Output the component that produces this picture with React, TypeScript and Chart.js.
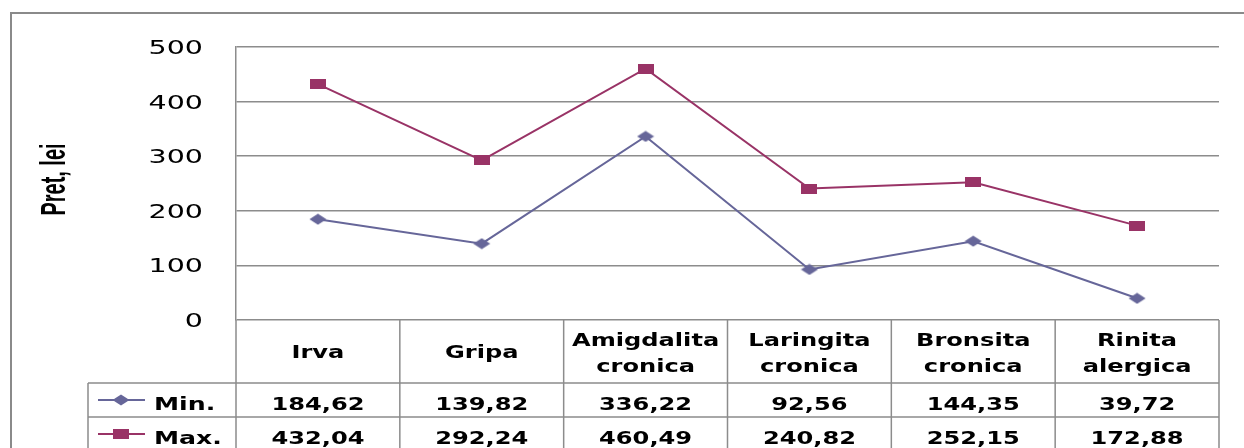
import React, { useEffect, useRef } from 'react';
import { Chart, registerables } from 'chart.js';
Chart.register(...registerables);

const categories: string[][] = [
  ['Irva'],
  ['Gripa'],
  ['Amigdalita', 'cronica'],
  ['Laringita', 'cronica'],
  ['Bronsita', 'cronica'],
  ['Rinita', 'alergica'],
];
const minValues = [184.62, 139.82, 336.22, 92.56, 144.35, 39.72];
const maxValues = [432.04, 292.24, 460.49, 240.82, 252.15, 172.88];
const seriesNames = ['Min.', 'Max.'];
const seriesColors = ['#666699', '#993366'];
const yMin = 0;
const yMax = 500;
const yStep = 100;
const axisTitle = 'Pret, lei';

const fmt = (v: number) => v.toFixed(2).replace('.', ',');

function makeDiamond(color: string) {
  const c = document.createElement('canvas');
  c.width = 18;
  c.height = 12;
  const g = c.getContext('2d')!;
  g.fillStyle = color;
  g.beginPath();
  g.moveTo(9, 0.5);
  g.lineTo(17.5, 6);
  g.lineTo(9, 11.5);
  g.lineTo(0.5, 6);
  g.closePath();
  g.fill();
  return c;
}

function makeRect(color: string) {
  const c = document.createElement('canvas');
  c.width = 16;
  c.height = 10;
  const g = c.getContext('2d')!;
  g.fillStyle = color;
  g.fillRect(0, 0, 16, 10);
  return c;
}

function stretchedText(ctx: CanvasRenderingContext2D, text: string, x: number, y: number, k: number, align: CanvasTextAlign) {
  ctx.save();
  ctx.translate(x, y);
  ctx.scale(k, 1);
  ctx.textAlign = align;
  ctx.textBaseline = 'alphabetic';
  ctx.fillText(text, 0, 0);
  ctx.restore();
}

export default function App() {
  const ref = useRef<HTMLCanvasElement>(null);

  useEffect(() => {
    if (!ref.current) return;
    const markers = [makeDiamond(seriesColors[0]), makeRect(seriesColors[1])];
    const seriesValues = [minValues, maxValues];
    const lineColor = '#8c8c8c';

    const excelPlugin = {
      id: 'excelTable',
      beforeDraw(chart: any) {
        const ctx = chart.ctx as CanvasRenderingContext2D;
        ctx.save();
        ctx.fillStyle = '#ffffff';
        ctx.fillRect(0, 0, chart.width, chart.height);
        ctx.strokeStyle = '#8a8a8a';
        ctx.lineWidth = 2;
        ctx.beginPath();
        ctx.moveTo(11, chart.height);
        ctx.lineTo(11, 13);
        ctx.lineTo(chart.width, 13);
        ctx.stroke();
        ctx.restore();
      },
      afterDraw(chart: any) {
        const ctx = chart.ctx as CanvasRenderingContext2D;
        const area = chart.chartArea;
        const xs = chart.scales.x;
        const ys = chart.scales.y;
        const half = (xs.getPixelForValue(1) - xs.getPixelForValue(0)) / 2;
        const top = area.bottom;
        const headerH = 63;
        const rowH = 34;
        const legendLeft = 88;
        const bottom = chart.height + 2;

        ctx.save();
        // y tick labels
        ctx.fillStyle = '#000';
        ctx.font = '19px "DejaVu Sans"';
        ys.ticks.forEach((t: any) => {
          const py = ys.getPixelForValue(t.value);
          stretchedText(ctx, String(t.value), 203, py + 7, 1.5, 'right');
        });

        // axis title
        ctx.save();
        ctx.font = 'bold 24px "Liberation Sans"';
        const tw = ctx.measureText(axisTitle).width;
        ctx.translate(65, (area.top + area.bottom) / 2 - 4);
        ctx.scale(1.45, 1);
        ctx.rotate(-Math.PI / 2);
        ctx.scale(72 / tw, 1);
        ctx.textAlign = 'center';
        ctx.textBaseline = 'alphabetic';
        ctx.fillText(axisTitle, 0, 0);
        ctx.restore();

        // table lines
        ctx.strokeStyle = lineColor;
        ctx.lineWidth = 1.5;
        ctx.beginPath();
        for (let i = 0; i <= categories.length; i++) {
          const bx = xs.getPixelForValue(0) - half + i * half * 2;
          ctx.moveTo(bx, top);
          ctx.lineTo(bx, bottom);
        }
        for (let r = 0; r < seriesNames.length; r++) {
          const ry = top + headerH + r * rowH;
          ctx.moveTo(legendLeft, ry);
          ctx.lineTo(area.right, ry);
        }
        ctx.moveTo(legendLeft, top + headerH);
        ctx.lineTo(legendLeft, bottom);
        ctx.stroke();

        // header labels
        ctx.fillStyle = '#000';
        ctx.font = 'bold 18px "DejaVu Sans"';
        categories.forEach((lines, i) => {
          const cx = xs.getPixelForValue(i);
          if (lines.length === 1) {
            stretchedText(ctx, lines[0], cx, top + 38, 1.34, 'center');
          } else {
            stretchedText(ctx, lines[0], cx, top + 26, 1.34, 'center');
            stretchedText(ctx, lines[1], cx, top + 52, 1.34, 'center');
          }
        });

        // rows
        seriesNames.forEach((name, r) => {
          const base = top + headerH + r * rowH + 27;
          const mid = top + headerH + r * rowH + rowH / 2;
          ctx.strokeStyle = seriesColors[r];
          ctx.lineWidth = 2;
          ctx.beginPath();
          ctx.moveTo(98, mid);
          ctx.lineTo(145, mid);
          ctx.stroke();
          const m = markers[r];
          ctx.drawImage(m, 121 - m.width / 2, mid - m.height / 2);
          ctx.fillStyle = '#000';
          stretchedText(ctx, name, 154, base, 1.4, 'left');
          seriesValues[r].forEach((v, i) => {
            stretchedText(ctx, fmt(v), xs.getPixelForValue(i), base, 1.34, 'center');
          });
        });
        ctx.restore();
      },
    };

    const chart = new Chart(ref.current, {
      type: 'line',
      data: {
        labels: categories.map((c) => c.join(' ')),
        datasets: [
          {
            label: seriesNames[0],
            data: minValues,
            borderColor: seriesColors[0],
            borderWidth: 2,
            pointStyle: markers[0] as any,
            pointRadius: 6,
            tension: 0,
          },
          {
            label: seriesNames[1],
            data: maxValues,
            borderColor: seriesColors[1],
            borderWidth: 2,
            pointStyle: markers[1] as any,
            pointRadius: 6,
            tension: 0,
          },
        ],
      },
      options: {
        responsive: false,
        animation: false,
        layout: { padding: { left: 0, top: 47, right: 25, bottom: 0 } },
        plugins: { legend: { display: false }, tooltip: { enabled: false } },
        scales: {
          x: {
            type: 'category',
            offset: true,
            grid: { display: false },
            border: { display: false },
            ticks: { display: false },
            afterFit(s: any) {
              s.height = 128;
            },
          },
          y: {
            min: yMin,
            max: yMax,
            ticks: { display: false, stepSize: yStep },
            grid: { color: lineColor, lineWidth: 1.5, drawTicks: false },
            border: { display: true, color: lineColor, width: 1.5 },
            afterFit(s: any) {
              s.width = 236;
            },
          },
        },
      },
      plugins: [excelPlugin],
    });
    return () => chart.destroy();
  }, []);

  return (
    <div style={{ position: 'fixed', left: 0, top: 0, width: 1244, height: 448 }}>
      <canvas ref={ref} width={1244} height={448} style={{ display: 'block' }} />
    </div>
  );
}
